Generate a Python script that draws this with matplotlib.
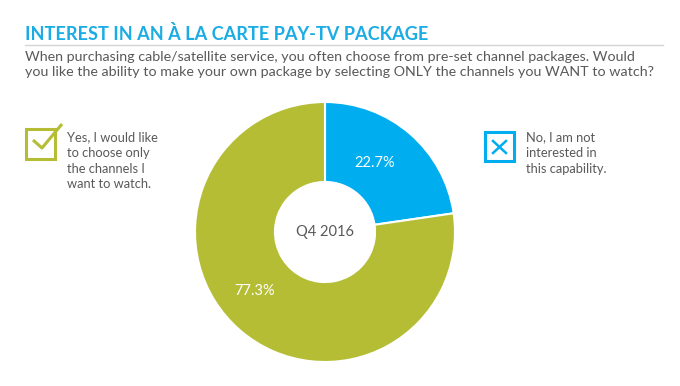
import matplotlib
matplotlib.use("Agg")
import matplotlib.pyplot as plt
from matplotlib.patches import Rectangle

categories = ["No, I am not\ninterested in\nthis capability.", "Yes, I would like\nto choose only\nthe channels I\nwant to watch."]
values = [22.7, 77.3]
value_labels = ["22.7%", "77.3%"]
colors = ["#00aeef", "#b5bd34"]
center_label = "Q4 2016"
title = "INTEREST IN AN À LA CARTE PAY-TV PACKAGE"
subtitle = ("When purchasing cable/satellite service, you often choose from pre-set channel packages. Would\n"
            "you like the ability to make your own package by selecting ONLY the channels you WANT to watch?")

W, H = 680, 386
fig = plt.figure(figsize=(W / 100, H / 100), dpi=100)
fig.patch.set_facecolor("white")

# pie
cx, cy, r = 325, 232, 130
pax = fig.add_axes([(cx - r) / W, (H - cy - r) / H, 2 * r / W, 2 * r / H])
wedges, _ = pax.pie(values, colors=colors, startangle=90, counterclock=False,
                    radius=1.0, wedgeprops=dict(width=0.615, edgecolor="white", linewidth=1.5))
pax.set_xlim(-1, 1)
pax.set_ylim(-1, 1)
pax.set_aspect("equal")
pax.axis("off")

# overlay axes in pixel coords
ax = fig.add_axes([0, 0, 1, 1])
ax.set_xlim(0, W)
ax.set_ylim(H, 0)
ax.axis("off")
ax.patch.set_alpha(0)

FONT = "Lato"
gray = "#58595b"

ax.text(25, 40, title, fontsize=13.1, fontweight="bold", color="#1aace3", family=FONT, va="baseline")
ax.plot([25, 663], [44.5, 44.5], color="#d5d5d5", lw=1)
ax.text(25, 51, subtitle, fontsize=10.3, color=gray, family=FONT, va="top", linespacing=1.33)

ax.text(375, 163, value_labels[0], fontsize=10.5, color="white", family=FONT, ha="center", va="center")
ax.text(255, 291, value_labels[1], fontsize=10.5, color="white", family=FONT, ha="center", va="center")
ax.text(cx, cy, center_label, fontsize=10.5, color=gray, family=FONT, ha="center", va="center")

# left icon (check)
ax.add_patch(Rectangle((26, 129), 29, 30, fill=False, edgecolor=colors[1], lw=2.2))
ax.plot([33, 42, 62], [140, 148, 124], color=colors[1], lw=2.2, solid_capstyle="butt")
ax.text(67, 131, categories[1], fontsize=9.3, color=gray, family=FONT, va="top", linespacing=1.38)

# right icon (X)
ax.add_patch(Rectangle((485, 132), 29, 29, fill=False, edgecolor=colors[0], lw=2.2))
ax.plot([493, 506], [141, 153], color=colors[0], lw=1.8)
ax.plot([493, 506], [153, 141], color=colors[0], lw=1.8)
ax.text(526, 131, categories[0], fontsize=9.3, color=gray, family=FONT, va="top", linespacing=1.38)

fig.savefig("out.png", dpi=100, facecolor="white")
